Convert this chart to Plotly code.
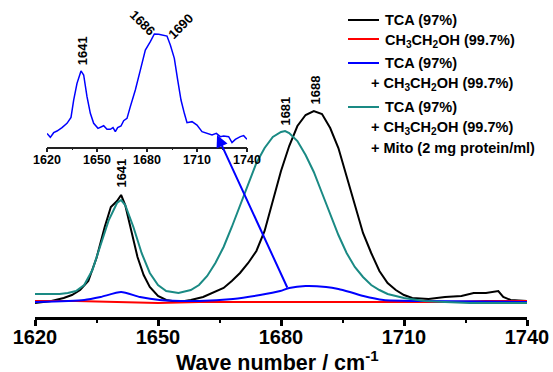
import plotly.graph_objects as go

# ---------------- data ----------------
tca_x = [1620, 1624, 1627, 1629, 1631, 1633, 1635, 1637, 1638.5, 1640, 1641, 1642, 1643.5,
         1645, 1646.5, 1648, 1650, 1652, 1655, 1658, 1661, 1664, 1666, 1668, 1670, 1672,
         1674, 1676, 1678, 1680, 1682, 1684, 1686, 1688, 1690, 1692, 1694, 1696, 1698,
         1700, 1702, 1704, 1706, 1708, 1710, 1712, 1716, 1720, 1724, 1727, 1730, 1732,
         1733, 1734.2, 1736, 1740]
tca_y = [0.00, 0.02, 0.05, 0.08, 0.13, 0.22, 0.45, 0.76, 0.96, 1.02, 1.08, 0.98, 0.72,
         0.46, 0.28, 0.16, 0.07, 0.03, 0.01, 0.03, 0.06, 0.11, 0.15, 0.22, 0.30, 0.40,
         0.52, 0.72, 1.02, 1.32, 1.57, 1.77, 1.88, 1.92, 1.89, 1.75, 1.55, 1.27, 0.97,
         0.70, 0.50, 0.32, 0.20, 0.13, 0.08, 0.05, 0.04, 0.06, 0.07, 0.10, 0.10, 0.11,
         0.12, 0.06, 0.03, 0.02]

eth_x = [1620, 1630, 1640, 1650, 1660, 1670, 1680, 1690, 1700, 1710, 1720, 1730, 1740]
eth_y = [0.02, 0.02, 0.01, 0.00, 0.01, 0.01, 0.01, 0.01, 0.01, 0.01, 0.01, 0.02, 0.02]

mix_x = [1620, 1632, 1636, 1641, 1645.6, 1650.4, 1660, 1668.3, 1674.9, 1679.8, 1682, 1686,
         1691, 1694, 1696.8, 1700.1, 1705, 1714, 1740]
mix_y = [0.01, 0.03, 0.06, 0.11, 0.06, 0.03, 0.02, 0.04, 0.08, 0.12, 0.15, 0.17,
         0.16, 0.14, 0.11, 0.07, 0.03, 0.02, 0.01]

mito_x = [1620, 1626, 1628, 1630, 1632, 1634, 1636, 1638, 1640, 1641, 1642, 1644, 1646,
          1648, 1650, 1652, 1655, 1658, 1660, 1662, 1664, 1666, 1668, 1670, 1672, 1674,
          1676, 1678, 1680, 1681, 1682, 1684, 1686, 1688, 1690, 1692, 1694, 1696, 1698,
          1700, 1702, 1704, 1706, 1710, 1715, 1720, 1726, 1740]
mito_y = [0.09, 0.09, 0.10, 0.12, 0.18, 0.33, 0.58, 0.83, 1.00, 1.03, 0.98, 0.76, 0.50,
          0.30, 0.18, 0.12, 0.10, 0.13, 0.18, 0.27, 0.40, 0.56, 0.76, 0.98, 1.20, 1.40,
          1.55, 1.66, 1.71, 1.72, 1.70, 1.62, 1.48, 1.31, 1.10, 0.88, 0.68, 0.50, 0.36,
          0.26, 0.18, 0.13, 0.09, 0.05, 0.02, 0.01, 0.00, 0.00]

inset_x = [1620, 1622, 1624, 1626, 1629, 1632, 1634.4, 1636, 1638, 1640.4, 1642, 1644, 1646,
           1648, 1650.6, 1652, 1654, 1656, 1658, 1659.6, 1661, 1662.4, 1664.4, 1666, 1668,
           1670, 1673, 1676, 1679, 1682, 1684.4, 1687, 1690, 1692, 1694, 1696.4, 1698.4,
           1700.4, 1702.4, 1704, 1707, 1710, 1713, 1716, 1719, 1721.6, 1724, 1726, 1729,
           1731, 1733, 1736, 1738, 1740]
inset_y = [0.118, 0.083, 0.124, 0.139, 0.169, 0.207, 0.26, 0.414, 0.562, 0.672, 0.636, 0.444,
           0.296, 0.207, 0.163, 0.172, 0.186, 0.154, 0.154, 0.169, 0.133, 0.169, 0.183, 0.231,
           0.251, 0.355, 0.503, 0.680, 0.858, 0.932, 1.0, 0.997, 0.991, 0.982, 0.902, 0.784,
           0.592, 0.414, 0.296, 0.213, 0.222, 0.192, 0.133, 0.118, 0.104, 0.118, 0.089, 0.095,
           0.089, 0.036, 0.065, 0.089, 0.098, 0.065]

tick_vals = [1620, 1650, 1680, 1710, 1740]
tick_text = ["1620", "1650", "1680", "1710", "1740"]

legend_names = ["TCA (97%)", "CH<sub>3</sub>CH<sub>2</sub>OH (99.7%)",
                "TCA (97%)", "+ CH<sub>3</sub>CH<sub>2</sub>OH (99.7%)",
                "TCA (97%)", "+ CH<sub>3</sub>CH<sub>2</sub>OH (99.7%)",
                "+ Mito (2 mg protein/ml)"]

# ---------------- styling ----------------
W, H = 553, 372
ML, MR, MT, MB = 35, 26, 8, 55
PW, PH = W - ML - MR, H - MT - MB
FONT = "Arial, Liberation Sans, sans-serif"

def px(xp):  # window pixel -> paper
    return (xp - ML) / PW

def py(yp):
    return (H - MB - yp) / PH

BLACK, RED, BLUE, TEAL = "#000000", "#ff0000", "#0000ff", "#1a8a84"

fig = go.Figure()
fig.add_trace(go.Scatter(x=tca_x, y=tca_y, mode="lines", line=dict(color=BLACK, width=2)))
fig.add_trace(go.Scatter(x=eth_x, y=eth_y, mode="lines", line=dict(color=RED, width=2)))
fig.add_trace(go.Scatter(x=mix_x, y=mix_y, mode="lines", line=dict(color=BLUE, width=2, shape="spline", smoothing=0.6)))
fig.add_trace(go.Scatter(x=mito_x, y=mito_y, mode="lines", line=dict(color=TEAL, width=2)))
fig.add_trace(go.Scatter(x=inset_x, y=inset_y, mode="lines", line=dict(color=BLUE, width=1.5),
                         xaxis="x2", yaxis="y2"))

fig.update_layout(
    width=W, height=H, margin=dict(l=ML, r=MR, t=MT, b=MB, autoexpand=False),
    plot_bgcolor="white", paper_bgcolor="white", showlegend=False,
    font=dict(family=FONT, color="black"),
    xaxis=dict(range=[1620, 1740], tickvals=tick_vals, ticktext=tick_text, automargin=False,
               showline=True, linecolor="black", linewidth=3, ticks="outside", ticklen=6,
               tickwidth=2.5, tickcolor="black", showgrid=False, zeroline=False,
               ticklabelstandoff=-6,
               minor=dict(dtick=15, tick0=1620, ticks="outside", ticklen=3, tickwidth=2, tickcolor="black"),
               tickfont=dict(size=20, family=FONT, weight="bold")),
    yaxis=dict(range=[-0.14, 2.95], visible=False, showgrid=False, zeroline=False, automargin=False),
    xaxis2=dict(domain=[px(47), px(247)], anchor="y2", range=[1620, 1740], automargin=False,
                tickvals=tick_vals, ticktext=tick_text, showline=True, linecolor="#222",
                linewidth=1.5, ticks="outside", ticklen=4, tickwidth=1.5, tickcolor="#222",
                ticklabelstandoff=-3,
                minor=dict(dtick=15, tick0=1620, ticks="outside", ticklen=2, tickwidth=1.2, tickcolor="#222"),
                showgrid=False, zeroline=False,
                tickfont=dict(size=12.5, family=FONT, weight="bold")),
    yaxis2=dict(domain=[py(146.67), py(11.47)], anchor="x2", range=[0, 1.2], visible=False,
                showgrid=False, zeroline=False, automargin=False),
)

ann = []
# axis title
ann.append(dict(x=px(277), y=py(361), xref="paper", yref="paper", text="Wave number / cm<sup>-1</sup>",
                showarrow=False, xanchor="center", yanchor="middle",
                font=dict(size=21.5, family=FONT, weight="bold", color="black")))
# peak labels main
lab = dict(font=dict(size=13, family=FONT, weight="bold", color="black"), showarrow=False,
           textangle=-90, xanchor="center", yanchor="bottom")
ann.append(dict(x=1641, y=1.13, text="1641", xref="x", yref="y", **lab))
ann.append(dict(x=1681, y=1.75, text="1681", xref="x", yref="y", **lab))
ann.append(dict(x=1688.3, y=1.96, text="1688", xref="x", yref="y", **lab))
# inset labels
ann.append(dict(x=1641, y=0.70, text="1641", xref="x2", yref="y2", **lab))
ann.append(dict(x=1677, y=1.10, text="1686", xref="x2", yref="y2", showarrow=False, textangle=45,
                xanchor="center", yanchor="middle", font=dict(size=13, family=FONT, weight="bold")))
ann.append(dict(x=1700, y=1.07, text="1690", xref="x2", yref="y2", showarrow=False, textangle=-45,
                xanchor="center", yanchor="middle", font=dict(size=13, family=FONT, weight="bold")))
# arrow
ann.append(dict(x=1664.4, y=1.68, ax=1681.7, ay=0.14, xref="x", yref="y", axref="x", ayref="y",
                text="", showarrow=True, arrowhead=2, arrowsize=1.2, arrowwidth=2, arrowcolor=BLUE))

# legend
leg_lines = [(20, BLACK), (39, RED), (63, BLUE), (107, TEAL)]
shapes = []
for yy, c in leg_lines:
    shapes.append(dict(type="line", xref="paper", yref="paper", x0=px(348), x1=px(379),
                       y0=py(yy), y1=py(yy), line=dict(color=c, width=2)))
leg_pos = [(383, 20), (383, 41), (383, 63), (369, 84), (383, 107), (369, 128), (369, 148)]
for (xx, yy), t in zip(leg_pos, legend_names):
    ann.append(dict(x=px(xx), y=py(yy), xref="paper", yref="paper", text=t, showarrow=False,
                    xanchor="left", yanchor="middle",
                    font=dict(size=14.5, family=FONT, weight="bold", color="black")))

fig.update_layout(annotations=ann, shapes=shapes)
# remove the default page margin so the figure sits at the window corner
fig.write_html("out.html", config={"displayModeBar": False},
               post_script="document.body.style.margin='0';document.body.style.overflow='hidden';")
